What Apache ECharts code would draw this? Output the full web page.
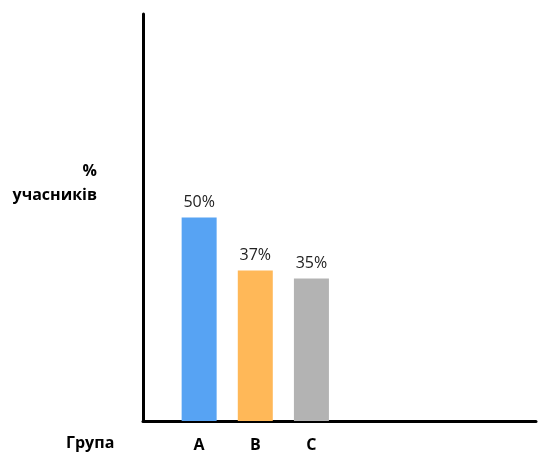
<!DOCTYPE html>
<html>
<head>
    <meta charset="utf-8">
    <title>Група</title>
    <script src="https://cdn.jsdelivr.net/npm/echarts@6/dist/echarts.min.js"></script>
    <style>
        html, body { margin: 0; padding: 0; background: #fff; }
        #chart { width: 539px; height: 454px; }
    </style>
</head>
<body>
    <div id="chart"></div>
    <script>
        // дані
        const categories = ['', 'A', 'B', 'C', '', '', '', ''];
        const values = [null, 50, 37, 35, null, null, null, null];
        const colors = [null, '#57a3f3', '#ffb858', '#b3b3b3', null, null, null, null];
        const yMax = 100;

        const font = '"Open Sans", "Noto Sans", sans-serif';

        let chart = echarts.init(document.getElementById('chart'));
        chart.setOption({
            animation: false,
            grid: { left: 143, right: -3, top: 14, bottom: 33 },
            xAxis: {
                type: 'category',
                data: categories,
                boundaryGap: false,
                axisLine: { lineStyle: { color: '#000', width: 3 } },
                axisTick: { show: false },
                axisLabel: {
                    interval: 0,
                    margin: 16,
                    color: '#000',
                    fontWeight: 'bold',
                    fontSize: 16,
                    fontFamily: font
                }
            },
            yAxis: {
                type: 'value',
                min: 0,
                max: yMax,
                axisLine: { show: true, lineStyle: { color: '#000', width: 3 } },
                axisTick: { show: false },
                axisLabel: { show: false },
                splitLine: { show: false }
            },
            graphic: [
                {
                    type: 'text', right: 442, top: 163,
                    style: { text: '%', fill: '#000', font: 'bold 16px ' + font, textAlign: 'right' }
                },
                {
                    type: 'text', right: 442, top: 187,
                    style: { text: 'учасників', fill: '#000', font: 'bold 16px ' + font, textAlign: 'right' }
                },
                {
                    type: 'text', left: 66, top: 435,
                    style: { text: 'Група', fill: '#000', font: 'bold 16px ' + font }
                }
            ],
            series: [{
                type: 'bar',
                barWidth: 35,
                data: values.map((v, i) => v === null ? null : { value: v, itemStyle: { color: colors[i] } }),
                label: {
                    show: true,
                    position: 'top',
                    distance: 7,
                    formatter: '{c}%',
                    color: '#222',
                    fontSize: 16,
                    fontFamily: font
                }
            }]
        });
    </script>
</body>
</html>
